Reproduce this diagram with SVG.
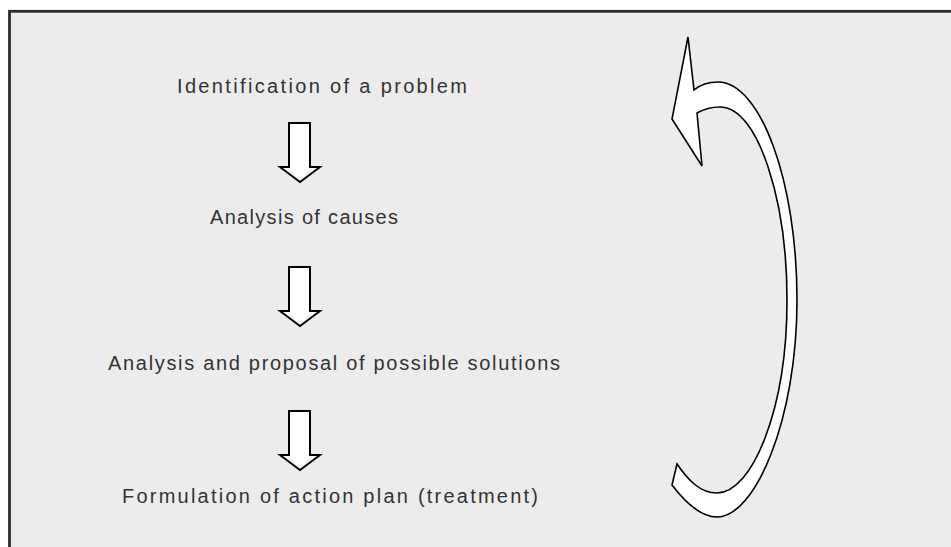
<svg xmlns="http://www.w3.org/2000/svg" xmlns:xlink="http://www.w3.org/1999/xlink" width="951" height="547" viewBox="0 0 951 547">
  <style>
    .frame { fill: #ececec; stroke: #2e2e2e; stroke-width: 2.8; }
    .step { font-family: "Liberation Sans", Arial, sans-serif; font-size: 20px; fill: #333333; }
    .down { fill: #ffffff; stroke: #000000; stroke-width: 2; stroke-linejoin: miter; }
    .cycle { fill: #ffffff; stroke: #000000; stroke-width: 1.6; stroke-linejoin: miter; }
  </style>
  <defs>
    <!-- hollow block arrow pointing down; top edge at y=0 -->
    <path id="down-arrow" d="M289,0 H310 V44 H320 L300,59 L280,44 H289 Z"/>
  </defs>

  <rect width="951" height="547" fill="#ffffff"/>
  <rect class="frame" x="9.5" y="11.3" width="960" height="560"/>

  <g id="step-identification">
    <text class="step" x="177" y="93" textLength="290" lengthAdjust="spacing">Identification of a problem</text>
  </g>
  <g id="step-causes">
    <text class="step" x="210" y="224" textLength="188" lengthAdjust="spacing">Analysis of causes</text>
  </g>
  <g id="step-solutions">
    <text class="step" x="108" y="370" textLength="452" lengthAdjust="spacing">Analysis and proposal of possible solutions</text>
  </g>
  <g id="step-action-plan">
    <text class="step" x="122" y="503" textLength="416" lengthAdjust="spacing">Formulation of action plan (treatment)</text>
  </g>

  <g id="connectors">
    <use class="down" xlink:href="#down-arrow" href="#down-arrow" transform="translate(0,123)"/>
    <use class="down" xlink:href="#down-arrow" href="#down-arrow" transform="translate(0,267)"/>
    <use class="down" xlink:href="#down-arrow" href="#down-arrow" transform="translate(0,411)"/>
    <!-- curved return arrow from the last step back to the first -->
    <path class="cycle" d="M672,485 C688,506 702,517 717,517 C755,517 797,420 797,300 C797,180 760,82 718,82 C708,82 700,85 694,90 L688,37 L672,119 L702,166 L697,113 C704,109 712,107 720,107 C758,107 787,200 787,300 C787,410 752,493 717,493 C700,493 688,480 677,464 Z"/>
  </g>
</svg>
